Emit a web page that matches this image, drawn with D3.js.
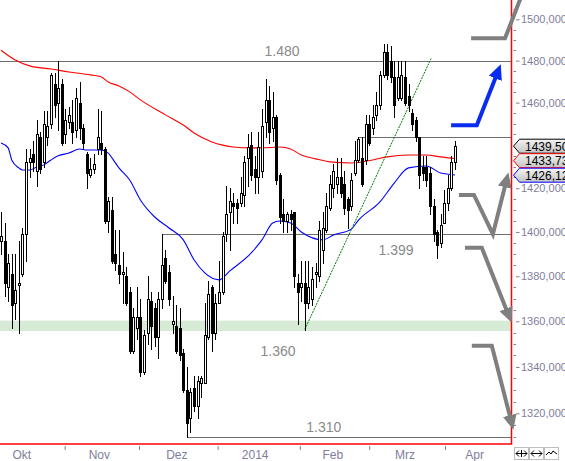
<!DOCTYPE html>
<html>
<head>
<meta charset="utf-8">
<script src="https://cdn.jsdelivr.net/npm/d3@7"></script>
<style>
  body { margin: 0; background: #fff; }
  svg { display: block; font-family: "Liberation Sans", Arial, sans-serif; }
</style>
</head>
<body>
<svg width="565" height="461"></svg>
<script>
// daily candles, [open, high, low, close]
var ohlc = [
  [1396,1409,1390,1398],[1396,1404,1371,1377],[1375,1390,1369,1386],[1381,1390,1357,1367],
  [1368,1390,1361,1374],[1376,1396,1355,1377],[1381,1402,1380,1399],[1399,1438,1387,1432],
  [1432,1438,1425,1434],[1436,1442,1428,1432],[1428,1452,1421,1445],[1444,1446,1427,1429],
  [1432,1456,1430,1450],[1444,1456,1440,1449],[1450,1474,1448,1473],[1469,1474,1453,1459],
  [1460,1480,1447,1467],[1469,1471,1440,1441],[1445,1457,1441,1452],[1451,1458,1448,1454],
  [1451,1461,1441,1446],[1447,1467,1444,1462],[1460,1470,1443,1448],[1448,1450,1438,1441],
  [1436,1437,1420,1427],[1426,1434,1425,1429],[1429,1436,1427,1431],[1438,1457,1436,1444],
  [1441,1456,1436,1438],[1438,1439,1404,1405],[1405,1416,1400,1414],[1410,1416,1386,1387],
  [1390,1401,1383,1386],[1385,1401,1377,1381],[1381,1391,1368,1382],[1380,1384,1367,1368],
  [1373,1375,1346,1347],[1347,1366,1346,1362],[1357,1375,1352,1362],[1362,1370,1336,1338],
  [1338,1356,1337,1354],[1355,1380,1350,1370],[1369,1373,1348,1358],[1366,1368,1349,1353],
  [1353,1373,1344,1370],[1370,1399,1366,1385],[1388,1392,1377,1378],[1382,1385,1367,1370],
  [1359,1371,1355,1360],[1358,1367,1346,1347],[1357,1366,1343,1345],[1346,1348,1329,1330],
  [1330,1340,1310,1316],[1318,1331,1312,1329],[1331,1336,1321,1323],[1323,1336,1318,1334],
  [1333,1336,1327,1335],[1333,1368,1333,1354],[1353,1378,1352,1372],[1375,1376,1347,1355],
  [1355,1372,1352,1368],[1368,1387,1368,1373],[1373,1400,1372,1398],[1399,1421,1396,1408],
  [1409,1420,1392,1414],[1413,1418,1404,1412],[1413,1415,1404,1411],[1413,1425,1412,1418],
  [1417,1435,1412,1432],[1434,1445,1421,1439],[1440,1446,1424,1426],[1429,1435,1418,1425],
  [1425,1446,1418,1439],[1428,1457,1425,1449],[1451,1471,1444,1461],[1461,1468,1441,1446],
  [1448,1465,1442,1453],[1453,1454,1422,1424],[1426,1427,1404,1407],[1408,1415,1400,1405],
  [1405,1409,1400,1408],[1408,1410,1401,1406],[1409,1409,1375,1380],[1377,1381,1359,1373],
  [1375,1387,1369,1377],[1377,1387,1356,1368],[1368,1387,1366,1375],[1370,1384,1367,1379],
  [1381,1386,1375,1382],[1380,1405,1378,1401],[1392,1409,1386,1402],[1401,1418,1400,1412],
  [1411,1426,1410,1422],[1420,1431,1416,1428],[1422,1434,1418,1425],[1425,1434,1416,1418],
  [1422,1428,1408,1411],[1415,1416,1402,1410],[1412,1427,1410,1424],[1427,1442,1426,1433],
  [1433,1444,1432,1443],[1434,1444,1421,1422],[1433,1454,1431,1450],[1450,1454,1440,1441],
  [1448,1459,1445,1453],[1454,1465,1452,1459],[1459,1475,1457,1473],[1473,1488,1472,1484],
  [1484,1488,1471,1473],[1480,1487,1470,1472],[1472,1480,1453,1459],[1462,1480,1461,1472],
  [1462,1480,1461,1473],[1472,1480,1459,1460],[1463,1469,1456,1459],[1455,1457,1447,1450],
  [1452,1453,1442,1444],[1444,1444,1420,1426],[1430,1435,1424,1427],[1430,1435,1421,1424],
  [1427,1430,1408,1412],[1412,1415,1396,1399],[1400,1401,1388,1394],[1395,1408,1393,1403],
  [1404,1419,1404,1413],[1413,1426,1410,1420],[1420,1435,1419,1432],[1432,1442,1429,1439.5]
];

// moving averages (candle index, value)
var slowIdx = [0,4,8,14,19,25,28,30,33,36,39,46,51,54,59,62,65,70,73,78,81,84,88,92,98,104,108,114,119,123,127];
var slowVal = [1485,1480.3,1477.5,1476,1474.6,1473.2,1472.3,1469.8,1467.9,1465.1,1461.3,1454.2,1449.4,1445.7,1441.5,1440,
  1439.1,1438.7,1438.7,1439.1,1438.2,1435.4,1433.6,1432.2,1431.7,1433.1,1434.5,1435.4,1435.4,1434.5,1433.73];
var fastIdx = [0,2,3,5,6,8,10,12,14,16,19,22,24,28,30,32,33,36,39,43,47,51,54,57,61,64,70,73,76,78,81,84,90,93,98,100,106,110,114,119,123,127];
var fastVal = [1441,1438.7,1433.1,1429.4,1428.4,1428.4,1429.8,1430.8,1433.1,1435,1436.3,1438.2,1437.7,1437.7,1436.3,1431.7,
  1429.4,1423.8,1414.6,1406.8,1401.8,1396.4,1387.4,1381.5,1378.4,1382.4,1390.5,1396.4,1404.1,1405,1404.1,1400,1396.4,
  1398.6,1401.3,1405.4,1413.7,1422.4,1429.4,1430.3,1427,1426.12];

// horizontal levels
var levelVal = [1480, 1444, 1399, 1310];
var levelStart = [-1, 100, 45, 52];
var levelText = ["1.480", "1.399", "1.360", "1.310"];
var levelTextIdx = [78.6, 110.5, 77.5, 90.3];
var levelTextVal = [1482.3, 1389.6, 1344.8, 1312];
var zoneVal = [1355.7, 1360.3];
var trend = [[85, 1356.5], [120.3, 1481]];

// months
var monthNames = ["Okt", "Nov", "Dez", "2014", "Feb", "Mrz", "Apr"];
var monthIdx = [5.8, 27.5, 49.2, 71.1, 92.8, 113, 132.5];
var monthTicks = [17.8, 38.6, 60.6, 83.6, 103, 124.2];

// scenario arrows (index, value)
var arrows = [
  { color: "#7f7f7f", pts: [[131.5, 1490.8], [141, 1490.8], [146.6, 1516]] },
  { color: "#0a2cf0", pts: [[125.9, 1449.3], [133.1, 1449.3], [139.3, 1476]] },
  { color: "#7f7f7f", pts: [[128.1, 1416.9], [132.3, 1416.9], [137.6, 1399], [141.6, 1425]] },
  { color: "#7f7f7f", pts: [[129.8, 1392.8], [134.5, 1392.8], [142.3, 1361.5]] },
  { color: "#7f7f7f", pts: [[131.7, 1349.2], [137.3, 1349.2], [143, 1315]] }
];

var svg = d3.select("svg"),
  width = +svg.attr("width"),
  height = +svg.attr("height");

var plotRight = 511.5,
  plotBottom = 444;

var x = d3.scaleLinear().domain([0, 127]).range([1, 455]);
var y = d3.scaleLog().domain([1320, 1500]).range([413.3, 19.3]);

var de = d3.formatLocale({ decimal: ",", thousands: ".", grouping: [3] });
var fmt3 = de.format(".3f"),
  fmt2 = de.format(".2f");

var defs = svg.append("defs");
arrows.forEach(function(a, i) {
  defs.append("marker")
    .attr("id", "ah" + i)
    .attr("markerUnits", "userSpaceOnUse")
    .attr("markerWidth", 16)
    .attr("markerHeight", 16)
    .attr("viewBox", "0 0 16 16")
    .attr("refX", 10)
    .attr("refY", 8)
    .attr("orient", "auto")
    .append("path")
    .attr("d", "M0,1 L15,8 L0,15 Z")
    .attr("fill", a.color);
});
var grad = defs.append("linearGradient").attr("id", "tagfill").attr("x1", 0).attr("x2", 0).attr("y1", 0).attr("y2", 1);
grad.append("stop").attr("offset", "0%").attr("stop-color", "#f4f4f4");
grad.append("stop").attr("offset", "100%").attr("stop-color", "#c4c4c4");
defs.append("clipPath").attr("id", "plot")
  .append("rect").attr("x", 0).attr("y", 0).attr("width", plotRight).attr("height", plotBottom);

var plot = svg.append("g").attr("clip-path", "url(#plot)");

// support zone
plot.append("rect")
  .attr("x", 0)
  .attr("width", plotRight)
  .attr("y", y(zoneVal[1]))
  .attr("height", y(zoneVal[0]) - y(zoneVal[1]))
  .attr("fill", "#d6ead6");

// levels
plot.append("g")
  .selectAll("line")
  .data(levelVal)
  .enter()
  .append("line")
  .attr("x1", function(d, i) { return Math.max(0, Math.round(x(levelStart[i]))); })
  .attr("x2", plotRight)
  .attr("y1", function(d) { return Math.round(y(d)) + 0.5; })
  .attr("y2", function(d) { return Math.round(y(d)) + 0.5; })
  .attr("stroke", "#6e6e6e")
  .attr("stroke-width", 1);

svg.append("g")
  .selectAll("text")
  .data(levelText)
  .enter()
  .append("text")
  .attr("x", function(d, i) { return x(levelTextIdx[i]); })
  .attr("y", function(d, i) { return y(levelTextVal[i]); })
  .attr("text-anchor", "middle")
  .attr("font-size", 14)
  .attr("fill", "#8a8a8a")
  .text(function(d) { return d; });

// moving averages
var ma = d3.line()
  .x(function(d) { return x(d[0]); })
  .y(function(d) { return y(d[1]); })
  .curve(d3.curveMonotoneX);

plot.append("path")
  .datum(d3.zip(slowIdx, slowVal))
  .attr("d", ma)
  .attr("fill", "none")
  .attr("stroke", "#ff0000")
  .attr("stroke-width", 1.1);

plot.append("path")
  .datum(d3.zip(fastIdx, fastVal))
  .attr("d", ma)
  .attr("fill", "none")
  .attr("stroke", "#0000ff")
  .attr("stroke-width", 1.1);

// trend line
plot.append("line")
  .attr("x1", x(trend[0][0]))
  .attr("y1", y(trend[0][1]))
  .attr("x2", x(trend[1][0]))
  .attr("y2", y(trend[1][1]))
  .attr("stroke", "#007a00")
  .attr("stroke-width", 1)
  .attr("stroke-dasharray", "2,1");

// candles
var candles = plot.append("g").attr("class", "candles");
var c = candles.selectAll("g")
  .data(ohlc)
  .enter()
  .append("g");

c.append("line")
  .attr("x1", function(d, i) { return Math.round(x(i)) + 0.5; })
  .attr("x2", function(d, i) { return Math.round(x(i)) + 0.5; })
  .attr("y1", function(d) { return Math.round(y(d[1])); })
  .attr("y2", function(d) { return Math.round(y(d[2])) + 1; })
  .attr("stroke", "#000")
  .attr("stroke-width", 1);

c.append("rect")
  .attr("x", function(d, i) { return Math.round(x(i)) - 1 + (d[3] >= d[0] ? 0.5 : 0); })
  .attr("width", function(d) { return d[3] >= d[0] ? 2 : 3; })
  .attr("y", function(d) { return Math.round(y(Math.max(d[0], d[3]))) + (d[3] >= d[0] ? 0.5 : 0); })
  .attr("height", function(d) {
    var h = Math.round(y(Math.min(d[0], d[3]))) - Math.round(y(Math.max(d[0], d[3])));
    return Math.max(h, 1) + (d[3] >= d[0] ? 0 : 1);
  })
  .attr("fill", function(d) { return d[3] >= d[0] ? "#fff" : "#000"; })
  .attr("stroke", function(d) { return d[3] >= d[0] ? "#000" : "none"; })
  .attr("stroke-width", 1);

// frame
svg.append("line")
  .attr("x1", 0).attr("x2", plotRight + 0.75)
  .attr("y1", plotBottom).attr("y2", plotBottom)
  .attr("stroke", "#ff0000").attr("stroke-width", 1.5);
svg.append("line")
  .attr("x1", plotRight).attr("x2", plotRight)
  .attr("y1", 0).attr("y2", plotBottom)
  .attr("stroke", "#ff0000").attr("stroke-width", 1.5);

// right axis
var axisColor = "#7e7e9c";
var yAxis = svg.append("g")
  .attr("transform", "translate(513,0)")
  .call(d3.axisRight(y)
    .tickValues(d3.range(1320, 1501, 20))
    .tickSize(5)
    .tickPadding(3)
    .tickFormat(fmt3));
yAxis.select(".domain").remove();
yAxis.selectAll("line").attr("stroke", axisColor).attr("transform", "translate(1.5,0)")
  .attr("x1", 1.5);
yAxis.selectAll("text").attr("fill", axisColor).attr("font-size", 11)
  .attr("font-family", "\"Liberation Sans\", Arial, sans-serif");

svg.append("g")
  .selectAll("line")
  .data(d3.range(1310, 1506, 5).filter(function(v) { return v % 20 !== 0; }))
  .enter()
  .append("line")
  .attr("x1", 513.5).attr("x2", 516)
  .attr("y1", function(d) { return Math.round(y(d)) + 0.5; })
  .attr("y2", function(d) { return Math.round(y(d)) + 0.5; })
  .attr("stroke", axisColor);

// bottom axis
var xTicks = svg.append("g")
  .attr("transform", "translate(0," + (plotBottom + 2) + ")")
  .call(d3.axisBottom(x).tickValues(monthTicks).tickSize(4).tickFormat(""));
xTicks.select(".domain").remove();
xTicks.selectAll("line").attr("stroke", axisColor);

svg.append("g")
  .selectAll("text")
  .data(monthNames)
  .enter()
  .append("text")
  .attr("x", function(d, i) { return x(monthIdx[i]); })
  .attr("y", 459)
  .attr("text-anchor", "middle")
  .attr("font-size", 12)
  .attr("fill", axisColor)
  .text(function(d) { return d; });

// scenario arrows
var arrowLine = d3.line()
  .x(function(d) { return x(d[0]); })
  .y(function(d) { return y(d[1]); });

svg.append("g")
  .selectAll("path")
  .data(arrows)
  .enter()
  .append("path")
  .attr("d", function(d) { return arrowLine(d.pts); })
  .attr("fill", "none")
  .attr("stroke", function(d) { return d.color; })
  .attr("stroke-width", 4)
  .attr("stroke-linejoin", "miter")
  .attr("marker-end", function(d, i) { return "url(#ah" + i + ")"; });

// last value tags
var last = ohlc[ohlc.length - 1][3];
var tags = [
  { v: last, stroke: "#000" },
  { v: slowVal[slowVal.length - 1], stroke: "#ff0000" },
  { v: fastVal[fastVal.length - 1], stroke: "#0000ff" }
];
var prevY = -100;
tags.forEach(function(t) {
  t.cy = Math.max(y(t.v), prevY + 14.5);
  prevY = t.cy;
});

var tg = svg.append("g")
  .selectAll("g")
  .data(tags)
  .enter()
  .append("g");

tg.append("path")
  .attr("d", function(d) {
    var cy = d.cy;
    return "M513.5," + cy + " L519.5," + (cy - 7) + " L570," + (cy - 7) +
      " L570," + (cy + 7) + " L519.5," + (cy + 7) + " Z";
  })
  .attr("fill", "url(#tagfill)")
  .attr("stroke", function(d) { return d.stroke; })
  .attr("stroke-width", 1);

tg.append("text")
  .attr("x", 525)
  .attr("y", function(d) { return d.cy + 4.5; })
  .attr("font-size", 12)
  .attr("fill", "#000")
  .text(function(d) { return fmt2(d.v); });

// small toolbar buttons
var btn = svg.append("g").attr("transform", "translate(514,447)");
[0, 15, 30].forEach(function(dx, i) {
  var b = btn.append("g").attr("transform", "translate(" + dx + ",0)");
  b.append("rect").attr("x", 0.5).attr("y", 0.5).attr("width", 14).attr("height", 12)
    .attr("fill", "#fff").attr("stroke", "#bdbdbd");
  if (i < 2) {
    b.append("path").attr("d", "M2,6.5 H13 M2,6.5 l3,-3 M2,6.5 l3,3 M13,6.5 l-3,-3 M13,6.5 l-3,3")
      .attr("stroke", "#000").attr("fill", "none");
    if (i === 0) b.append("path").attr("d", "M7.5,3 V10").attr("stroke", "#000");
  } else {
    b.append("path").attr("d", "M2,8 L5,5 L7,7 L9,4 L13,7").attr("stroke", "#000").attr("fill", "none");
  }
});
</script>
</body>
</html>
